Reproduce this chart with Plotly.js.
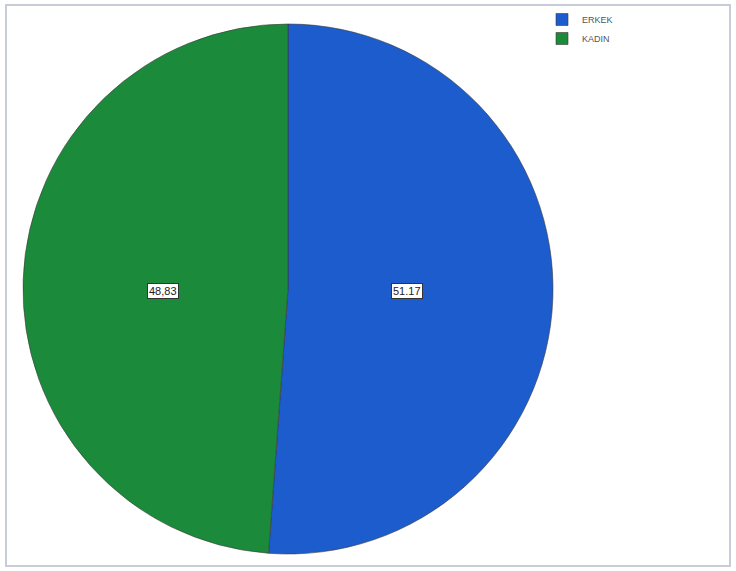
<!DOCTYPE html>
<html>
<head>
<meta charset="utf-8">
<script src="https://cdn.plot.ly/plotly-3.0.1.min.js"></script>
<style>html,body{margin:0;padding:0;background:#fff;}#chart{width:736px;height:571px;}</style>
</head>
<body>
<div id="chart"></div>
<script>
const categories = ["ERKEK", "KADIN"];
const values = [51.17, 48.83];
const valueLabels = ["51.17", "48,83"];
const colors = ["#1d5ccc", "#1b8a3a"];

const W = 736, H = 571;
const cx = 288, cy = 289, R = 265;

const total = values.reduce((a, b) => a + b, 0);
let acc = 0;
const annotations = values.map((v, i) => {
  const mid = (acc + v / 2) / total * 2 * Math.PI;
  acc += v;
  const rr = 0.46 * R;
  return {
    xref: "paper", yref: "paper",
    x: (cx - 3 + rr * Math.sin(mid)) / W,
    y: 1 - (cy + 2) / H,
    xanchor: "center", yanchor: "middle",
    text: valueLabels[i], showarrow: false,
    font: {family: "Arial, Liberation Sans, sans-serif", size: 11, color: "#222"},
    bgcolor: "#ffffff", bordercolor: "#333", borderwidth: 1, borderpad: 1
  };
});

const trace = {
  type: "pie",
  labels: categories,
  values: values,
  sort: false,
  direction: "clockwise",
  rotation: 0,
  textinfo: "none",
  hoverinfo: "label+value",
  marker: {colors: colors, line: {color: "#3a3a3a", width: 0.6}},
  domain: {x: [(cx - R) / W, (cx + R) / W], y: [1 - (cy + R) / H, 1 - (cy - R) / H]}
};

const layout = {
  width: W, height: H,
  margin: {l: 0, r: 0, t: 0, b: 0},
  paper_bgcolor: "#ffffff",
  showlegend: true,
  legend: {
    x: 542 / W, y: 1 - 5 / H, xanchor: "left", yanchor: "top",
    font: {family: "Arial, Liberation Sans, sans-serif", size: 9, color: "#555"},
    itemwidth: 30, tracegroupgap: 0, bgcolor: "rgba(0,0,0,0)"
  },
  annotations: annotations,
  shapes: [{
    type: "rect", xref: "paper", yref: "paper",
    x0: 6 / W, x1: 730 / W, y0: 1 - 566 / H, y1: 1 - 5 / H,
    line: {color: "#c8ccd8", width: 2}
  }]
};

Plotly.newPlot("chart", [trace], layout, {displayModeBar: false, staticPlot: true});
</script>
</body>
</html>
